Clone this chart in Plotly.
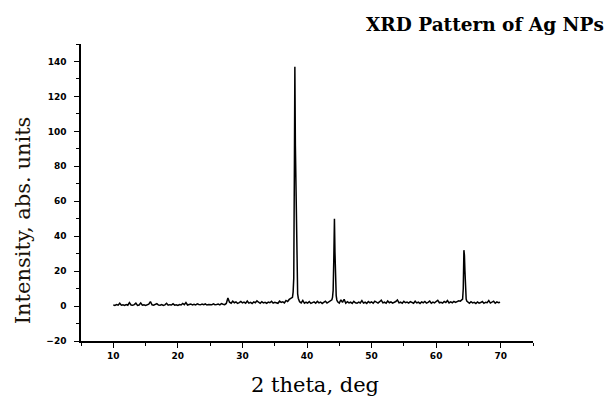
import numpy as np
import plotly.graph_objects as go

# Baseline segments (regular sampling grid) and hand-read intensities
seg_a_x = np.arange(10.0, 27.76, 0.25)
seg_a_y = [0.6,0.4,0.8,0.5,1.6,0.5,0.7,0.4,
           0.9,0.5,2.0,0.6,0.5,0.8,1.7,0.4,
           0.6,1.8,0.5,0.7,0.4,0.9,1.1,2.6,
           0.7,0.5,0.8,1.4,0.6,0.5,0.9,0.4,
           0.7,1.6,0.5,0.8,0.6,1.3,0.5,0.7,
           0.4,0.9,0.6,1.5,0.8,2.0,0.6,0.9,
           1.2,0.7,1.0,0.6,1.3,0.9,0.7,1.1,
           0.8,1.2,0.6,0.9,1.0,0.7,1.3,0.8,
           0.9,1.1,0.7,1.4,1.0,0.8,1.5,4.6]

seg_b_x = np.arange(28.0, 37.76, 0.25)
seg_b_y = [2.2,1.6,2.8,1.9,2.4,1.5,2.0,2.6,
           1.8,2.3,1.6,2.9,1.7,2.1,1.5,2.4,
           1.9,3.0,2.2,1.6,2.5,1.8,2.1,1.6,
           2.3,1.9,2.7,1.7,2.2,2.0,1.6,2.8,
           2.1,2.4,1.8,3.2,2.6,3.8,4.2,5.0]

peak1_x = [37.85, 37.95, 38.05, 38.12, 38.2, 38.28, 38.36, 38.45, 38.55, 38.65, 38.75]
peak1_y = [8, 16, 81, 137, 92, 72, 28, 10, 7, 4.5, 3]

seg_c_x = np.arange(38.85, 43.86, 0.25)
seg_c_y = [2.5,1.8,3.2,1.6,2.2,1.7,2.6,1.5,2.1,2.4,1.6,2.7,1.8,2.3,1.5,2.0,2.8,1.7,2.2,3.0,3.6]

peak2_x = [43.95, 44.05, 44.15, 44.25, 44.33, 44.42, 44.52, 44.62]
peak2_y = [5, 9, 27, 50, 31, 14, 6, 3.5]

seg_d_x = np.arange(44.75, 64.01, 0.25)
seg_d_y = [2.4,1.7,3.6,2.1,3.9,1.6,2.5,1.8,
           2.2,1.5,2.7,1.9,1.6,2.3,1.8,3.1,
           1.7,2.2,1.5,2.6,1.9,2.4,1.6,2.8,
           2.0,1.7,2.5,3.4,1.8,2.2,1.6,2.9,
           1.9,2.4,1.7,2.1,2.6,3.5,1.8,2.2,
           1.6,2.7,1.9,2.3,1.7,2.5,2.0,1.6,
           2.8,1.8,2.2,1.5,2.4,1.9,2.6,1.7,
           2.1,2.9,1.6,2.3,1.8,2.5,3.3,1.9,
           2.2,1.7,2.6,2.0,3.2,1.8,2.4,1.9,
           2.7,2.1,2.5,3.0,2.8,3.4]

peak3_x = [64.1, 64.2, 64.3, 64.38, 64.46, 64.55, 64.65, 64.75]
peak3_y = [4, 10, 32, 29, 20, 8, 4, 2.8]

seg_e_x = np.arange(64.9, 69.91, 0.25)
seg_e_y = [2.2,1.6,2.5,1.8,2.1,1.5,2.4,1.7,2.0,2.6,1.6,2.2,1.9,3.1,1.7,2.3,2.8,1.6,2.4,1.9,2.2]

two_theta = np.concatenate([seg_a_x, seg_b_x, peak1_x, seg_c_x, peak2_x, seg_d_x, peak3_x, seg_e_x])
intensity = np.concatenate([seg_a_y, seg_b_y, peak1_y, seg_c_y, peak2_y, seg_d_y, peak3_y, seg_e_y])

x_ticks = [10, 20, 30, 40, 50, 60, 70]
y_ticks = [-20, 0, 20, 40, 60, 80, 100, 120, 140]

chart_title = "XRD Pattern of Ag NPs"
x_title = "2 theta, deg"
y_title = "Intensity, abs. units"

fig = go.Figure()
fig.add_trace(go.Scatter(x=two_theta, y=intensity, mode="lines",
                         line=dict(color="black", width=1.5), showlegend=False))

tickfont = dict(family="DejaVu Sans", size=9, color="black", weight=700)
serif = "DejaVu Serif"
fig.update_layout(
    width=608, height=398,
    margin=dict(l=81, r=75, t=44, b=57),
    paper_bgcolor="white", plot_bgcolor="white",
    annotations=[
        dict(text="<b>" + chart_title + "</b>", xref="paper", yref="paper", x=1.1615, y=1.064,
             xanchor="right", yanchor="middle", showarrow=False,
             font=dict(family=serif, size=18.5, color="black")),
        dict(text=x_title, xref="paper", yref="paper", x=0.518, y=-0.148,
             xanchor="center", yanchor="middle", showarrow=False,
             font=dict(family=serif, size=21, color="black")),
        dict(text=y_title, xref="paper", yref="paper", x=-0.128, y=0.407, textangle=-90,
             xanchor="center", yanchor="middle", showarrow=False,
             font=dict(family=serif, size=21, color="#1a1208")),
    ],
)
fig.update_xaxes(range=[5, 75], tickvals=x_ticks, ticks="outside", ticklen=5, tickwidth=1.2,
                 tickcolor="black", showline=True, linecolor="black", linewidth=1.5,
                 showgrid=False, zeroline=False, tickfont=tickfont, automargin=False,
                 minor=dict(ticks="outside", dtick=5, tick0=5, ticklen=3, tickcolor="black", showgrid=False))
fig.update_yaxes(range=[-20, 150], tickvals=y_ticks, ticks="outside", ticklen=5, tickwidth=1.2,
                 tickcolor="black", showline=True, linecolor="black", linewidth=1.5,
                 showgrid=False, zeroline=False, tickfont=tickfont, automargin=False,
                 ticklabelstandoff=6,
                 minor=dict(ticks="outside", dtick=10, tick0=-10, ticklen=3, tickcolor="black", showgrid=False))

fig.write_html("out.html", config={"displayModeBar": False},
               post_script="document.body.style.margin='0px';")
